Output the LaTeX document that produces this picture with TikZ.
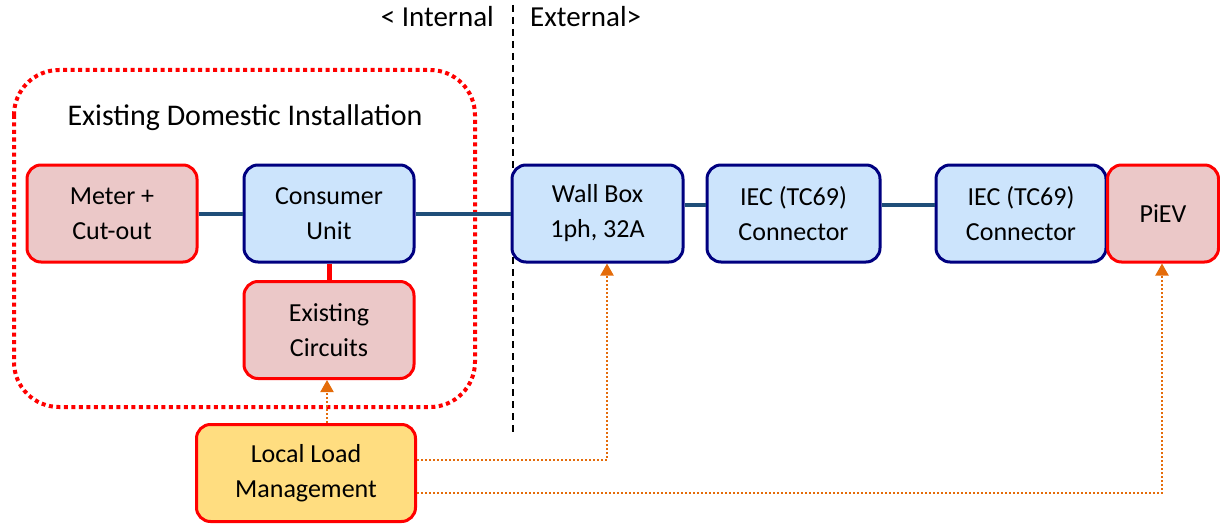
\documentclass[tikz,border=0pt]{standalone}
\usepackage{fontspec}
\setmainfont{Carlito}
\usetikzlibrary{arrows.meta}
\definecolor{redfill}{RGB}{235,200,200}
\definecolor{bluefill}{RGB}{204,228,252}
\definecolor{navyline}{RGB}{0,0,128}
\definecolor{yellowfill}{RGB}{255,221,128}
\definecolor{wire}{RGB}{31,78,121}
\definecolor{ctrl}{RGB}{228,108,10}
\begin{document}
\begin{tikzpicture}[x=1pt,y=-1pt,
  box/.style={draw,line width=3pt,rounded corners=14pt,inner sep=0pt,
    minimum width=170pt,minimum height=97pt,align=center,
    font=\fontsize{26}{35}\selectfont},
  redbox/.style={box,draw=red,fill=redfill},
  bluebox/.style={box,draw=navyline,fill=bluefill},
  yelbox/.style={box,draw=red,fill=yellowfill},
  wireline/.style={draw=wire,line width=4pt},
  ctrlline/.style={draw=ctrl,line width=2pt,dash pattern=on 2pt off 2pt,
    -{Triangle[width=13pt,length=12pt]}},
  lbl/.style={font=\fontsize{29}{32}\selectfont,inner sep=0pt}
]
\useasboundingbox (0,0) rectangle (1220,524);
% dotted enclosure
\draw[red,line width=4pt,dash pattern=on 4pt off 3.5pt,rounded corners=45pt]
  (14,70) rectangle (475,407);
\node[lbl,font=\fontsize{30}{32}\selectfont] (title) at (245,118) {Existing Domestic Installation};
% boundary
\coordinate (btop) at (513,5);
\coordinate (bbot) at (513,432);
\draw[black,line width=1.3pt,dash pattern=on 7pt off 5pt] (btop) -- (bbot);
\node[lbl,anchor=east] (int) at (494,17) {< Internal};
\node[lbl,anchor=west] (ext) at (530,17) {External>};
% nodes
\node[redbox] (meter) at (112,213.5) {Meter +\\Cut-out};
\node[bluebox] (cu) at (329,213.5) {Consumer\\Unit};
\node[redbox] (ec) at (329,330) {Existing\\Circuits};
\node[bluebox,minimum width=171pt] (wb) at (597.5,213.5) {Wall Box\\1ph, 32A};
\node[bluebox,minimum width=173pt] (iec1) at (793.5,213.5) {IEC (TC69)\\Connector};
\node[bluebox] (iec2) at (1021,213.5) {IEC (TC69)\\Connector};
\node[redbox,minimum width=111pt] (piev) at (1163,213.5) {PiEV};
\node[yelbox,minimum width=219pt] (llm) at (306,473) {Local Load\\Management};
% wires
\draw[wireline] (meter.east) -- (cu.west);
\draw[wireline] (cu.east) -- (wb.west);
\draw[wireline] (wb.east |- 0,205) -- (iec1.west |- 0,205);
\draw[wireline] (iec1.east |- 0,205) -- (iec2.west |- 0,205);
\draw[red,line width=5pt] (cu.south) -- (ec.north);
% control
\draw[ctrlline] (llm.north -| 327,0) -- (ec.south -| 327,0);
\draw[ctrlline] (llm.east |- 0,460) -| (wb.south -| 607,0);
\draw[ctrlline] (llm.east |- 0,493) -| (piev.south -| 1162,0);
\end{tikzpicture}
\end{document}
